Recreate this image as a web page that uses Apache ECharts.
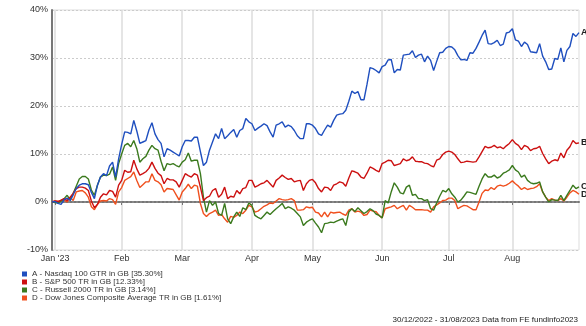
<!DOCTYPE html>
<html><head><meta charset="utf-8">
<script src="https://cdn.jsdelivr.net/npm/echarts@6/dist/echarts.min.js"></script>
<style>html,body{margin:0;padding:0;background:#fff}#c{width:586px;height:326px}</style>
</head><body><div id="c"></div>
<script>
const startDate = [2022, 11, 30];
const endDate = [2023, 7, 31];
const monthTickLabels = {'2023-01': "Jan '23", '2023-02': 'Feb', '2023-03': 'Mar', '2023-04': 'Apr', '2023-05': 'May', '2023-06': 'Jun', '2023-07': 'Jul', '2023-08': 'Aug'};
const yTickMin = -10, yTickMax = 40, yTickStep = 10;
const seriesNames = ['A - Nasdaq 100 GTR in GB [35.30%]', 'B - S&P 500 TR in GB [12.33%]', 'C - Russell 2000 TR in GB [3.14%]', 'D - Dow Jones Composite Average TR in GB [1.61%]'];
const seriesTags = ['A', 'B', 'C', 'D'];
const footerText = '30/12/2022 - 31/08/2023 Data from FE fundinfo2023';

const nasdaq = [
0,0.1,-0.3,-0.5,0.5,0.8,0.3,1.5,2.8,3.5,
3.8,3.8,3.6,2.0,0.7,3.5,5.2,5.9,5.5,7.5,
8.3,5.2,9.0,12.0,14.6,14.5,14.2,17.0,14.8,12.2,
12.5,12.8,15.0,16.5,14.2,13.0,12.2,9.4,11.1,10.8,
10.4,10.0,9.6,11.5,12.8,12.8,12.7,13.5,13.5,10.5,
7.6,8.3,10.8,12.5,14.2,13.2,15.3,13.2,13.8,14.5,
15.1,13.5,14.9,15.3,17.4,16.7,16.3,14.9,15.4,15.8,
16.3,15.9,14.6,13.5,16.0,16.3,16.7,15.6,16.0,15.7,
14.9,13.8,13.2,13.2,16.3,16.3,16.0,15.3,14.2,13.9,
15.0,16.0,15.6,17.0,18.1,18.3,18.4,19.1,21.0,23.1,
22.6,23.0,21.3,21.3,24.5,28.0,27.8,27.4,26.9,28.2,
28.5,29.6,29.7,26.9,27.6,27.5,30.6,30.7,30.8,31.5,
30.1,30.6,30.8,29.2,30.4,29.5,27.4,29.3,31.1,31.2,
32.0,32.4,32.3,31.7,30.5,29.6,29.7,29.5,31.1,31.0,
32.0,33.3,34.7,35.8,33.0,32.9,33.2,33.7,32.6,32.9,
35.2,35.4,36.1,33.8,33.5,32.4,33.3,32.8,31.3,31.2,
31.1,33.0,30.4,29.2,27.6,27.7,29.9,29.7,32.1,29.2,
31.6,32.4,35.1,34.5,35.3];

const sp500 = [
0,0.2,0.1,0.4,0.7,0.3,1.0,1.8,2.8,3.1,
3.1,2.9,2.4,0.2,-1.2,-0.5,1.0,1.7,1.5,2.4,
2.2,1.0,3.5,4.5,6.6,6.2,6.3,8.7,6.9,5.6,
5.9,6.3,7.0,8.3,7.0,6.0,5.5,3.8,4.9,4.6,
4.6,4.2,3.1,4.5,5.9,5.5,5.2,5.9,5.6,3.1,
0.3,0.9,1.2,2.4,2.8,1.0,1.6,3.1,0.7,1.2,
1.0,2.4,1.7,2.8,3.0,4.5,4.5,3.1,3.4,3.8,
4.0,4.5,3.8,3.1,4.5,5.0,5.6,5.1,4.7,4.9,
4.2,4.4,4.5,2.4,3.8,4.5,4.7,4.0,2.8,2.1,
3.1,3.0,2.4,3.5,3.8,4.2,4.0,3.3,5.0,6.5,
6.3,6.0,5.2,4.9,6.0,7.3,7.0,6.6,6.3,8.0,
8.3,8.7,8.6,7.6,7.8,8.0,9.0,8.6,8.8,9.4,
8.5,8.4,8.4,8.1,8.0,7.6,7.3,8.7,9.0,9.9,
10.4,10.6,10.4,9.9,9.0,8.2,8.3,8.5,8.4,8.3,
8.4,9.4,10.5,11.6,11.3,11.4,11.8,11.3,11.5,11.1,
11.7,12.2,13.0,12.2,11.8,10.9,11.8,11.5,10.7,11.1,
11.2,11.6,10.1,9.0,8.0,8.5,8.8,8.6,10.2,9.2,
10.8,11.5,12.8,12.2,12.33];

const russell = [
0,-0.1,-0.2,0.2,0.7,1.4,0.5,1.8,3.3,4.8,
5.3,5.3,4.8,2.5,1.4,3.5,5.2,5.6,5.5,5.8,
7.3,4.5,8.0,10.0,11.8,12.2,11.5,12.8,11.1,8.3,
9.0,9.5,10.8,11.8,11.1,10.8,8.5,6.5,8.0,7.8,
8.0,7.6,7.3,8.3,8.8,10.2,8.5,8.7,8.7,5.9,
1.0,-2.1,0.3,-0.7,0.0,-2.4,-2.8,-0.3,-3.5,-4.5,
-3.1,-2.1,-3.0,-1.2,-1.6,-0.2,-0.7,-2.8,-3.2,-3.5,
-2.8,-2.1,-2.6,-2.0,-1.4,-0.9,-0.3,-1.4,-1.0,-1.3,
-1.7,-2.4,-3.1,-4.9,-4.2,-3.8,-3.5,-4.4,-5.2,-6.4,
-4.5,-4.4,-4.2,-4.3,-4.0,-3.7,-3.5,-4.9,-2.1,-1.4,
-2.0,-1.2,-1.8,-2.4,-2.0,-1.4,-1.8,-2.5,-2.8,-3.3,
0.3,-0.2,2.1,4.0,3.1,1.9,1.7,3.1,3.5,1.4,
1.6,0.7,0.7,0.3,0.5,-1.4,-1.7,-0.2,1.2,2.4,
2.1,2.8,1.7,1.0,0.0,0.4,1.2,2.1,2.0,1.8,
1.6,3.3,4.8,5.9,5.2,5.2,5.6,5.0,5.3,6.0,
6.3,6.7,7.6,6.7,6.25,5.2,5.6,4.5,4.0,3.8,
3.9,4.2,2.1,1.0,0.0,0.5,0.4,0.3,1.4,0.3,
1.4,2.4,3.5,2.8,3.14];

const dowjones = [
0,0.2,0.1,0.3,0.4,0.0,1.0,0.3,2.1,2.3,
2.4,1.9,1.0,-1.0,-1.6,-0.5,0.2,0.3,0.2,0.7,
0.5,-0.5,2.1,3.0,4.5,4.9,5.3,6.25,4.5,3.0,
3.6,4.2,4.2,5.9,4.5,4.2,3.6,2.1,2.8,2.7,
2.6,1.5,0.4,2.1,2.8,3.7,2.8,3.5,3.3,-0.3,
-2.4,-3.0,-2.4,-2.1,-1.7,-2.8,-2.6,-3.5,-4.2,-3.0,
-3.2,-2.8,-2.1,-2.4,-1.7,-0.7,-1.0,-2.1,-1.9,-1.4,
-0.9,-0.6,-0.2,-0.3,0.2,0.7,0.5,0.4,0.5,0.7,
0.3,-1.7,-1.7,-1.6,-1.0,-1.2,-1.1,-2.1,-2.3,-3.1,
-2.1,-3.1,-2.1,-2.3,-2.2,-2.1,-2.5,-2.8,-1.7,-1.4,
-2.1,-1.9,-2.1,-2.8,-2.6,-1.7,-1.9,-2.0,-2.8,-3.3,
-1.4,-1.2,-1.0,-0.7,-1.4,-1.0,-0.7,-1.7,-0.7,-1.1,
-1.6,-1.6,-1.6,-1.7,-1.7,-2.1,-1.0,-0.6,-0.2,0.3,
0.4,0.8,0.8,0.3,-1.4,-1.0,-0.7,-0.8,-1.2,-1.6,
-1.6,0.0,1.8,2.5,2.4,3.0,2.6,3.3,3.5,3.3,
3.5,3.9,4.4,3.8,3.3,2.6,3.0,2.6,2.8,2.9,
3.2,3.8,2.1,1.0,0.3,0.7,0.4,0.3,0.7,0.2,
1.0,1.9,2.4,2.1,1.61];

const seriesColors = ['#1f4fbf', '#cc1010', '#3b7a1e', '#f0501e'];

// trading-day categories (weekdays)
const categories = [];
(function () {
  const d = new Date(Date.UTC(startDate[0], startDate[1], startDate[2]));
  const e = new Date(Date.UTC(endDate[0], endDate[1], endDate[2]));
  while (d <= e) {
    const w = d.getUTCDay();
    if (w !== 0 && w !== 6) categories.push(d.toISOString().slice(0, 10));
    d.setUTCDate(d.getUTCDate() + 1);
  }
})();
const isMonthStart = (idx) => idx > 0 && categories[idx].slice(0, 7) !== categories[idx - 1].slice(0, 7);

const allData = [nasdaq, sp500, russell, dowjones];
const chart = echarts.init(document.getElementById('c'), null, {renderer: 'canvas'});
const FONT = '"Liberation Sans", Arial, sans-serif';
chart.setOption({
  animation: false,
  textStyle: {fontFamily: FONT},
  grid: {left: 52, right: 7, top: 10, height: 240, show: true, borderColor: '#dddddd', borderWidth: 1, containLabel: false},
  legend: {
    orient: 'vertical', left: 22, top: 270, padding: 0, itemWidth: 5, itemHeight: 5, itemGap: 0,
    icon: 'rect', selectedMode: false,
    textStyle: {fontSize: 8, color: '#333', lineHeight: 8, fontFamily: FONT},
    data: seriesNames
  },
  xAxis: {
    type: 'category', data: categories, boundaryGap: false,
    axisLine: {lineStyle: {color: '#777', width: 2}},
    axisTick: {show: true, interval: isMonthStart, length: 3, lineStyle: {color: '#777'}},
    axisLabel: {interval: isMonthStart, formatter: (v) => monthTickLabels[v.slice(0, 7)] || '', fontSize: 9, color: '#333', margin: 4, fontFamily: FONT},
    splitLine: {show: true, interval: isMonthStart, lineStyle: {color: '#dddddd', width: 1.5}}
  },
  yAxis: {
    type: 'value', min: yTickMin, max: yTickMax, interval: yTickStep,
    axisLine: {show: true, lineStyle: {color: '#777', width: 2}},
    axisTick: {show: false},
    axisLabel: {formatter: '{value}%', fontSize: 9, color: '#333', margin: 4, fontFamily: FONT},
    splitLine: {lineStyle: {color: '#cccccc', type: [2, 2], width: 1}}
  },
  series: allData.map((d, k) => ({
    name: seriesNames[k], type: 'line', data: d, showSymbol: false, symbol: 'none',
    color: seriesColors[k], z: 10 - k,
    lineStyle: {width: 1.4, color: seriesColors[k]},
    endLabel: {show: true, formatter: seriesTags[k], fontSize: 9, fontWeight: 'bold', color: '#222', distance: 2, fontFamily: FONT},
    markLine: k === 0 ? {silent: true, symbol: ['none', 'none'], label: {show: false},
      lineStyle: {color: '#888', type: [2, 2], width: 2}, data: [{yAxis: 0}]} : undefined
  })),
  graphic: [{type: 'text', right: 8, top: 316, style: {text: footerText, font: '8px ' + FONT, fill: '#222'}}]
});
</script>
</body></html>
